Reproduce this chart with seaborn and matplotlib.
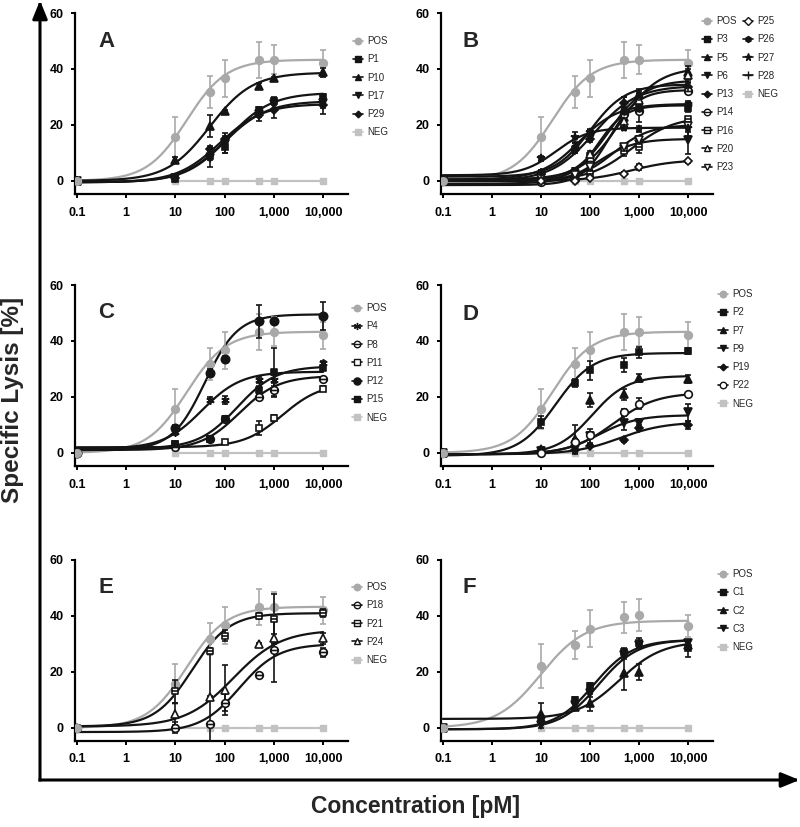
import numpy as np
import matplotlib
matplotlib.use('Agg')
import matplotlib.pyplot as plt
import seaborn as sns
from matplotlib.path import Path
from matplotlib.lines import Line2D
from matplotlib.patches import FancyArrowPatch
from matplotlib.ticker import FixedLocator, FixedFormatter, NullLocator

# ---------------- data ----------------
CONC = [0.1, 10, 50, 100, 500, 1000, 10000]
NEG_CONC = [10, 50, 100, 500, 1000, 10000]
NEG_VALS = [0, 0, 0, 0, 0, 0]
X_TICKS = [0.1, 1, 10, 100, 1000, 10000]
X_TICK_LABELS = ['0.1', '1', '10', '100', '1,000', '10,000']
Y_TICKS = [0, 20, 40, 60]

# positive control (panels A-E) and (panel F); fit = [bottom, top, EC50, hill]
POS_VALS = [0, 15.7, 31.8, 36.6, 43.2, 43.3, 42.0]
POS_SD = [0, 7.0, 5.8, 6.6, 6.5, 5.2, 4.9]
POS_FIT = [0, 43.3, 17, 1.08]
POS_F_VALS = [0, 22.0, 29.7, 35.4, 39.5, 40.3, 36.5]
POS_F_SD = [0, 7.8, 5.0, 6.6, 5.6, 5.6, 3.9]
POS_F_FIT = [0, 38.3, 10, 0.96]

A_NAMES = ['P1', 'P10', 'P17', 'P29']
A_VALS = [[0, 0.5, 9.0, 12.0, 25.5, 28.5, 30.0],
          [0, 7.5, 19.5, 25.0, 34.0, 36.8, 38.8],
          [0, 1.0, 8.0, 13.0, 24.0, 27.5, 28.0],
          [0, 1.0, 11.5, 15.0, 23.5, 25.5, 27.0]]
A_SD = [[0, 0.5, 1.5, 2, 1, 1.5, 1], [0, 1, 4, 0.5, 1, 0.5, 1.5],
        [0, 0.5, 3, 3, 1, 2, 2], [0, 0.5, 1, 2, 2, 3, 3]]
A_FIT = [[-0.5, 31.5, 120, 1.0], [0, 38.7, 50, 1.0],
         [-0.5, 28.5, 100, 1.0], [-0.5, 27.5, 80, 1.0]]

B_NAMES = ['P3', 'P5', 'P6', 'P13', 'P14', 'P16', 'P20', 'P23', 'P25', 'P26', 'P27', 'P28']
B_VALS = [[0, 0.5, 3.5, 9.0, 24.0, 27.0, 26.0],
          [0, 1.0, 3.0, 8.0, 23.0, 31.0, 39.0],
          [0, 0.0, 2.5, 5.0, 11.5, 13.0, 14.5],
          [0, 2.5, 11.0, 15.0, 28.0, 29.5, 33.5],
          [0, -0.5, 0.5, 7.0, 24.0, 25.0, 32.0],
          [0, 0.5, 1.5, 2.5, 10.5, 12.0, 22.0],
          [0, 0.5, 3.0, 9.5, 21.5, 29.0, 38.0],
          [0, 1.0, 2.0, 5.0, 12.0, 14.5, 19.5],
          [0, 0.0, 0.0, 1.0, 2.5, 5.0, 7.0],
          [0, 3.0, 12.0, 17.0, 25.0, 26.0, 27.5],
          [0, 8.0, 15.5, 17.5, 19.0, 18.5, 19.0],
          [0, 3.0, 12.0, 16.0, 28.0, 30.0, 33.5]]
B_SD = [[0, 0.5, 1, 1, 1, 1, 1.5], [0, 0.5, 1, 1, 2, 2, 2],
        [0, 0.5, 1, 1, 1, 1.5, 5], [0, 1, 1, 1, 2, 2, 1.5],
        [0, 0.5, 0.5, 1, 1, 4, 1], [0, 0, 0.5, 0.5, 1.5, 2, 1],
        [0, 0.5, 1, 1, 3, 2, 2], [0, 0.5, 0.5, 1, 1, 1.5, 2],
        [0, 0, 0, 0.5, 0.5, 1, 0.5], [0, 1, 1.5, 1, 1.5, 1, 1],
        [0, 1, 2, 1, 1, 1, 3], [0, 1, 2, 1.5, 2, 2, 2]]
B_FIT = [[0, 27, 150, 1.6], [0.5, 40.5, 400, 1.1], [-1, 15, 150, 1.2],
         [0, 34, 120, 1.0], [-1.5, 32.5, 250, 1.5], [0, 23, 700, 1.0],
         [0, 36, 250, 1.2], [0, 20, 300, 1.2], [0, 7.5, 700, 1.0],
         [0.5, 27.5, 60, 1.1], [2, 19, 20, 1.3], [1.5, 34.5, 100, 1.2]]

C_NAMES = ['P4', 'P8', 'P11', 'P12', 'P15']
C_VALS = [[0, 7.5, 19.0, 19.0, 26.0, 26.0, 32.0],
          [0, 2.0, 5.0, 12.0, 20.0, 22.5, 26.5],
          [0, 3.0, 5.0, 4.0, 9.0, 12.5, 23.0],
          [0, 9.0, 28.5, 33.5, 47.0, 47.0, 49.0],
          [0, 3.0, 5.0, 12.0, 22.5, 29.0, 30.5]]
C_SD = [[0, 1, 1, 1.5, 1, 2, 1], [0, 0.5, 0.5, 1, 1, 2.5, 0.5],
        [0, 0.5, 0.5, 0.5, 2.5, 1, 1], [0, 1, 1.5, 1, 6, 1, 5],
        [0, 1, 1, 1, 1.5, 8.5, 1]]
C_FIT = [[1.5, 29, 35, 1.1], [1, 27.5, 200, 1.1], [2, 25, 1500, 1.1],
         [1, 49.5, 40, 1.3], [1.5, 31, 180, 1.1]]

D_NAMES = ['P2', 'P7', 'P9', 'P19', 'P22']
D_VALS = [[0, 11.0, 25.0, 29.5, 31.5, 36.0, 36.5],
          [0, 1.5, 5.0, 19.0, 21.0, 26.8, 26.5],
          [0, 0.5, 1.5, 6.0, 10.5, 10.5, 14.5],
          [0, 0.5, 1.0, 2.5, 4.5, 9.0, 10.0],
          [0, 0.0, 4.0, 6.5, 14.5, 17.5, 21.0]]
D_SD = [[0, 2, 1.5, 3.5, 2.5, 2, 1], [0, 0.5, 5, 2.5, 2, 1.5, 1.5],
        [0, 0.5, 2, 2.5, 2.5, 1.5, 3], [0, 0, 0.5, 0.5, 0.5, 1, 1.5],
        [0, 0.5, 1, 1, 1, 2, 0.5]]
D_FIT = [[-1, 35.7, 20, 1.15], [-0.5, 27.5, 110, 1.2], [-0.5, 13.5, 150, 1.1],
         [-0.5, 11, 400, 0.95], [-0.5, 21.5, 300, 1.0]]

E_NAMES = ['P18', 'P21', 'P24']
E_VALS = [[0, 0.0, 1.5, 9.0, 19.0, 28.0, 27.0],
          [0, 13.0, 27.5, 33.0, 40.0, 39.0, 41.0],
          [0, 5.0, 11.0, 13.5, 30.0, 32.0, 32.0]]
E_SD = [[0, 2, 26, 3, 0.5, 11.5, 1.5], [0, 4, 1, 2, 1, 9, 1.5],
        [0, 4, 0.5, 9, 0.5, 1.5, 2]]
E_FIT = [[-1.5, 30, 200, 1.1], [0.5, 41, 22, 1.15], [0.5, 35, 150, 0.9]]

F_NAMES = ['C1', 'C2', 'C3']
F_VALS = [[0, 3.0, 10.0, 15.0, 27.0, 30.5, 28.5],
          [0, 5.0, 7.5, 9.0, 19.5, 20.0, 29.5],
          [0, 1.0, 8.0, 12.5, 26.0, 29.5, 30.5]]
F_SD = [[0, 1, 1, 1, 1.5, 1.5, 3], [0, 4, 1, 3, 6, 3, 1], [0, 1, 1, 1.5, 1.5, 1, 1]]
F_FIT = [[-0.5, 31.5, 120, 1.1], [3.2, 31, 400, 1.0], [-0.5, 31.5, 150, 1.1]]

# ---------------- styles ----------------
GREY = '#a9a9a9'
NEG_GREY = '#c2c2c2'
BLACK = '#141414'

_circ = Path.unit_circle()
_hline = Path([[-1, 0], [1, 0]], [Path.MOVETO, Path.LINETO])
CIRC_LINE = Path.make_compound_path(_circ, _hline)
_sq = Path([[-1, -1], [1, -1], [1, 1], [-1, 1], [-1, -1]],
           [Path.MOVETO, Path.LINETO, Path.LINETO, Path.LINETO, Path.CLOSEPOLY])
SQ_LINE = Path.make_compound_path(_sq, _hline)
ASTER = (6, 2, 0)

# marker, filled?, size
STYLE = {
    'P1': ('s', True, 5), 'P10': ('^', True, 5.5), 'P17': ('v', True, 5.5), 'P29': ('D', True, 4),
    'P3': ('s', True, 5), 'P5': ('^', True, 5.5), 'P6': ('v', True, 5.5), 'P13': ('D', True, 4),
    'P14': (CIRC_LINE, False, 5.5), 'P16': (SQ_LINE, False, 5), 'P20': ('^', False, 5.5),
    'P23': ('v', False, 5.5), 'P25': ('D', False, 4.5), 'P26': ('h', True, 5),
    'P27': ('*', True, 6), 'P28': ('+', True, 6),
    'P4': (ASTER, True, 6), 'P8': (CIRC_LINE, False, 5.5), 'P11': ('s', False, 5),
    'P12': ('o', True, 6), 'P15': (SQ_LINE, True, 5),
    'P2': ('s', True, 5), 'P7': ('^', True, 5.5), 'P9': ('v', True, 5.5), 'P19': ('D', True, 4),
    'P22': ('o', False, 5.5),
    'P18': (CIRC_LINE, False, 5.5), 'P21': (SQ_LINE, False, 5), 'P24': ('^', False, 5.5),
    'C1': ('s', True, 5), 'C2': ('^', True, 5.5), 'C3': ('v', True, 5.5),
}

sns.set_theme(style='ticks')
plt.rcParams['font.family'] = ['Liberation Sans', 'DejaVu Sans']
plt.rcParams['axes.linewidth'] = 1.6

fig = plt.figure(figsize=(8, 8.27), dpi=100)
FW, FH = 800, 827


def rect(left, top, w, h=181):
    return [left / FW, 1 - (top + h) / FH, w / FW, h / FH]


def four_pl(xs, p):
    b, t, ec, h = p
    return b + (t - b) / (1 + (ec / xs) ** h)


XS = np.logspace(-1, 4, 300)


def draw_points(ax, vals, sd, color, marker, filled, ms, z):
    x = np.array(CONC)
    v = np.array(vals, float)
    s = np.array(sd, float)
    m = s > 0
    ax.errorbar(x[m], v[m], yerr=s[m], fmt='none', ecolor=color, elinewidth=1.2,
                capsize=2.5, capthick=1.2, zorder=z)
    mfc = color if filled else 'white'
    ax.plot(x, v, ls='none', marker=marker, ms=ms, mfc=mfc, mec=color, mew=1.2, zorder=z + 0.5)


def handle(color, marker, filled, ms):
    return Line2D([0], [0], color=color, lw=1.2, marker=marker, ms=ms * 0.85,
                  mfc=color if filled else 'white', mec=color, mew=1.0)


def panel(r, letter, letter_xy, names, vals, sds, fits, pos, pos_sd, pos_fit, leg_xy, ncol=1):
    ax = fig.add_axes(r)
    ax.set_xscale('log')
    # positive control
    sns.lineplot(x=XS, y=four_pl(XS, pos_fit), ax=ax, color=GREY, lw=1.6, zorder=2)
    draw_points(ax, pos, pos_sd, GREY, 'o', True, 5.5, 3.6)
    # the lowest-concentration POS point sits on top of the overlapping series points
    ax.plot(CONC[:1], pos[:1], ls='none', marker='o', ms=5.5, color=GREY, zorder=7)
    handles = [handle(GREY, 'o', True, 5.5)]
    labels = ['POS']
    for i, (n, v, s, f) in enumerate(zip(names, vals, sds, fits)):
        mk, filled, ms = STYLE[n]
        sns.lineplot(x=XS, y=four_pl(XS, f), ax=ax, color=BLACK, lw=1.6, zorder=3)
        draw_points(ax, v, s, BLACK, mk, filled, ms, 4.2)
        handles.append(handle(BLACK, mk, filled, ms))
        labels.append(n)
    # negative control
    sns.lineplot(x=NEG_CONC, y=NEG_VALS, ax=ax, color=NEG_GREY, lw=1.6, zorder=2.5)
    ax.plot(NEG_CONC, NEG_VALS, ls='none', marker='s', ms=5, color=NEG_GREY, zorder=3.5)
    handles.append(handle(NEG_GREY, 's', True, 5))
    labels.append('NEG')
    if ncol == 2:
        rows = 9
        while len(handles) < 2 * rows:
            handles.append(Line2D([0], [0], alpha=0))
            labels.append('')
    ax.set_xlim(0.092, 32000)
    ax.set_ylim(-4.7, 60)
    ax.xaxis.set_major_locator(FixedLocator(X_TICKS))
    ax.xaxis.set_major_formatter(FixedFormatter(X_TICK_LABELS))
    ax.xaxis.set_minor_locator(NullLocator())
    ax.yaxis.set_major_locator(FixedLocator(Y_TICKS))
    ax.yaxis.set_minor_locator(NullLocator())
    for sp in ['top', 'right']:
        ax.spines[sp].set_visible(False)
    for sp in ['left', 'bottom']:
        ax.spines[sp].set_color('black')
        ax.spines[sp].set_linewidth(1.6)
    ax.tick_params(axis='both', direction='out', length=3, width=1.4, colors='black',
                   labelsize=9)
    ax.tick_params(axis='y', pad=5)
    ax.tick_params(axis='x', pad=6)
    for lab in ax.get_xticklabels() + ax.get_yticklabels():
        lab.set_fontweight('bold')
    ax.set_xlabel('')
    ax.set_ylabel('')
    ax.legend(handles, labels, loc='upper left',
              bbox_to_anchor=(leg_xy[0] / FW, 1 - leg_xy[1] / FH),
              bbox_transform=fig.transFigure, frameon=False, fontsize=7,
              handlelength=1.0, handletextpad=0.5, labelspacing=0.85,
              borderpad=0, borderaxespad=0, ncol=ncol, columnspacing=0.6)
    fig.text(letter_xy[0] / FW, 1 - letter_xy[1] / FH, letter, fontsize=16,
             fontweight='bold', va='baseline', ha='left')
    return ax


panel(rect(75, 13, 273), 'A', (98, 47), A_NAMES, A_VALS, A_SD, A_FIT,
      POS_VALS, POS_SD, POS_FIT, (353, 36))
panel(rect(441, 13, 272), 'B', (463, 47), B_NAMES, B_VALS, B_SD, B_FIT,
      POS_VALS, POS_SD, POS_FIT, (702, 16), ncol=2)
panel(rect(75, 285, 273), 'C', (98, 318), C_NAMES, C_VALS, C_SD, C_FIT,
      POS_VALS, POS_SD, POS_FIT, (352, 303))
panel(rect(441, 285, 272), 'D', (463, 320), D_NAMES, D_VALS, D_SD, D_FIT,
      POS_VALS, POS_SD, POS_FIT, (718, 289))
panel(rect(75, 560, 273), 'E', (98, 593), E_NAMES, E_VALS, E_SD, E_FIT,
      POS_VALS, POS_SD, POS_FIT, (352, 582))
panel(rect(441, 560, 272), 'F', (463, 593), F_NAMES, F_VALS, F_SD, F_FIT,
      POS_F_VALS, POS_F_SD, POS_F_FIT, (718, 569))

# big axis arrows
corner = (40 / FW, 1 - 780 / FH)
for tip in [(40 / FW, 1 - 0.5 / FH), (799.5 / FW, 1 - 780 / FH)]:
    fig.add_artist(FancyArrowPatch(posA=corner, posB=tip, transform=fig.transFigure,
                                   arrowstyle='-|>,head_length=1.1,head_width=0.45',
                                   mutation_scale=10, lw=2.2, color='black',
                                   shrinkA=0, shrinkB=0, capstyle='projecting'))

fig.text(415 / FW, 1 - 807 / FH, 'Concentration [pM]', fontsize=16.5, fontweight='bold',
         ha='center', va='center')
fig.text(13 / FW, 1 - 400 / FH, 'Specific Lysis [%]', fontsize=17.5, fontweight='bold',
         ha='center', va='center', rotation=90)

fig.savefig('out.png', dpi=100)
